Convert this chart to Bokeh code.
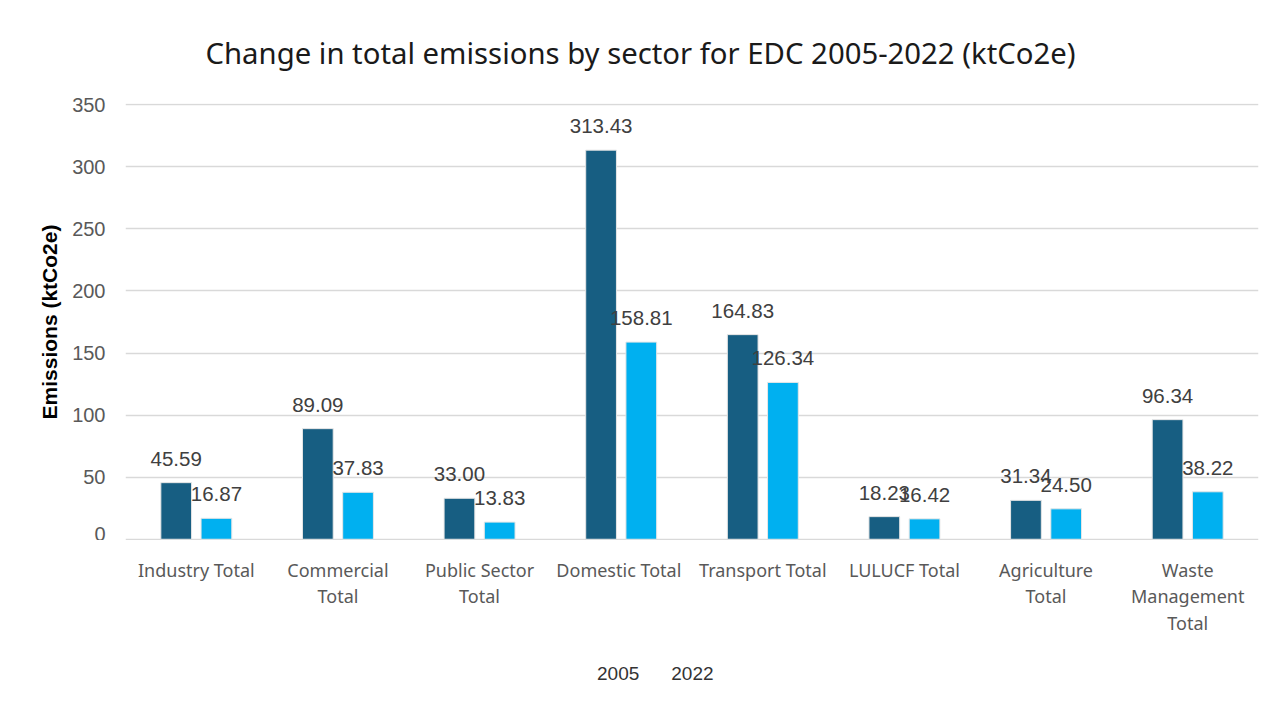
from bokeh.plotting import figure
from bokeh.layouts import column
from bokeh.models import (FactorRange, Range1d, FixedTicker, Legend, LegendItem,
                          ColumnDataSource)
from bokeh.core.properties import value
from bokeh.transform import dodge
from bokeh.embed import file_html
from bokeh.resources import INLINE

# ---- data ----
sectors = ["Industry Total", "Commercial\nTotal", "Public Sector\nTotal", "Domestic  Total",
           "Transport Total", "LULUCF Total", "Agriculture\nTotal", "Waste\nManagement\nTotal"]
series_years = ["2005", "2022"]
values_2005 = [45.59, 89.09, 33.00, 313.43, 164.83, 18.23, 31.34, 96.34]
values_2022 = [16.87, 37.83, 13.83, 158.81, 126.34, 16.42, 24.50, 38.22]
y_ticks = [0, 50, 100, 150, 200, 250, 300, 350]
title_text = "Change in total emissions by sector for EDC 2005-2022 (ktCo2e)"
y_label = "Emissions (ktCo2e)"

C2005 = "#175E82"
C2022 = "#00B0F0"
SANS = "Noto Sans"
ARIAL = "Liberation Sans"

src = ColumnDataSource(dict(
    cat=sectors,
    v2005=values_2005,
    v2022=values_2022,
    l2005=[f"{v:.2f}" for v in values_2005],
    l2022=[f"{v:.2f}" for v in values_2022],
))

xr = FactorRange(*sectors)

# ---------------- main chart ----------------
p = figure(x_range=xr, y_range=Range1d(y_ticks[0] - 1, y_ticks[-1] + 1),
           frame_width=1133, frame_height=437, output_backend="svg", toolbar_location=None,
           x_axis_location=None,
           min_border_left=125, min_border_right=27, min_border_top=103, min_border_bottom=0,
           title=title_text)

p.title.align = "left"
p.title.text_font = SANS
p.title.text_font_size = "29.3px"
p.title.text_font_style = "normal"
p.title.text_color = "#1a1a1a"
p.title.standoff = 61
p.title.offset = 80

off = 0.142
bw = 0.217
r1 = p.vbar(x=dodge("cat", -off, range=xr), top="v2005", width=bw, source=src,
            fill_color=C2005, line_color="#e6e6e6", line_width=1)
r2 = p.vbar(x=dodge("cat", off, range=xr), top="v2022", width=bw, source=src,
            fill_color=C2022, line_color="#e6e6e6", line_width=1)

for col, ycol, d in (("l2005", "v2005", -off), ("l2022", "v2022", off)):
    p.text(x=dodge("cat", d, range=xr), y=ycol, text=col, source=src,
           text_align="center", text_baseline="middle", y_offset=-24,
           text_font=value(ARIAL), text_font_size="20.5px", text_color="#404040")

p.yaxis.ticker = FixedTicker(ticks=y_ticks)
p.yaxis.axis_line_color = None
p.yaxis.major_tick_line_color = None
p.yaxis.minor_tick_line_color = None
p.yaxis.major_tick_out = 0
p.yaxis.major_tick_in = 0
p.yaxis.major_label_text_font = ARIAL
p.yaxis.major_label_text_font_size = "20px"
p.yaxis.major_label_text_color = "#595959"
p.yaxis.major_label_standoff = 20
p.yaxis.axis_label = y_label
p.yaxis.axis_label_text_font = ARIAL
p.yaxis.axis_label_text_font_style = "bold"
p.yaxis.axis_label_text_font_size = "21px"
p.yaxis.axis_label_text_color = "#000000"
p.yaxis.axis_label_standoff = 8

p.xgrid.grid_line_color = None
p.ygrid.grid_line_color = "#d9d9d9"
p.ygrid.grid_line_width = 1.5
p.outline_line_color = None

# ---------------- category labels + legend strip ----------------
STRIP_H = 160
q = figure(x_range=xr, y_range=Range1d(0, STRIP_H),
           frame_width=1133, frame_height=STRIP_H, output_backend="svg", toolbar_location=None,
           x_axis_location=None, y_axis_location=None,
           min_border_left=125, min_border_right=27, min_border_top=0, min_border_bottom=0)
q.xgrid.grid_line_color = None
q.ygrid.grid_line_color = None
q.outline_line_color = None

LINE0 = STRIP_H - 29
LINE_SP = 26.5
lab_cat, lab_txt, lab_y = [], [], []
for s in sectors:
    for i, part in enumerate(s.split("\n")):
        lab_cat.append(s)
        lab_txt.append(part)
        lab_y.append(LINE0 - i * LINE_SP)
q.text(x="cat", y="y", text="t", source=ColumnDataSource(dict(cat=lab_cat, t=lab_txt, y=lab_y)),
       text_align="center", text_baseline="middle",
       text_font=value(SANS), text_font_size="18px", text_color="#595959")

d1 = q.vbar(x=[], top=[], width=0.2, fill_color=C2005, line_color="#e6e6e6")
d2 = q.vbar(x=[], top=[], width=0.2, fill_color=C2022, line_color="#e6e6e6")
legend = Legend(items=[LegendItem(label=series_years[0], renderers=[d1]),
                       LegendItem(label=series_years[1], renderers=[d2])],
                orientation="horizontal", location=(454, 15),
                label_text_font=ARIAL, label_text_font_size="19px", label_text_color="#333333",
                glyph_width=12, glyph_height=12, label_standoff=6, spacing=14,
                border_line_color=None, background_fill_alpha=0, margin=0, padding=0)
q.add_layout(legend, "center")

layout = column(p, q, spacing=0)
open("out.html", "w").write(file_html(layout, INLINE))
